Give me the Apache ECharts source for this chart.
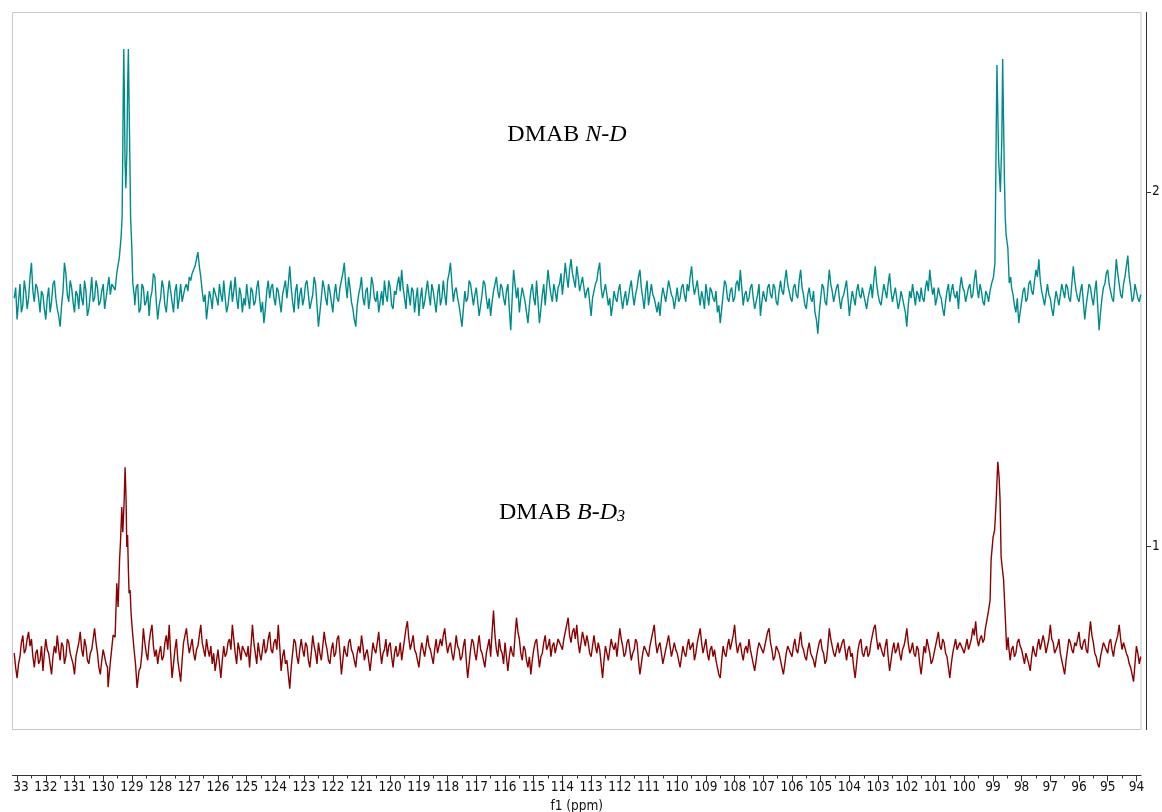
<!DOCTYPE html>
<html>
<head>
<meta charset="utf-8">
<script src="https://cdn.jsdelivr.net/npm/echarts@6/dist/echarts.min.js"></script>
<style>html,body{margin:0;padding:0;background:#fff}#c{width:1162px;height:812px}</style>
</head>
<body>
<div id="c"></div>
<script>
// ---- Data ----
// Baseline samples on a regular grid: first point at 133.1 ppm, then every 0.05 ppm upfield
const ppmStart = 133.1;
const ppmStep = 0.05;

const tealNoise = [
1.70,1.73,1.64,1.69,1.74,1.66,1.68,1.75,1.72,1.67,1.70,1.76,1.80,1.72,1.69,1.74,1.73,1.70,1.66,1.72,
1.71,1.67,1.64,1.70,1.73,1.66,1.69,1.74,1.75,1.70,1.67,1.65,1.62,1.68,1.72,1.80,1.77,1.71,1.69,1.75,
1.73,1.69,1.66,1.72,1.71,1.67,1.74,1.70,1.68,1.75,1.72,1.65,1.67,1.71,1.76,1.69,1.70,1.75,1.73,1.68,
1.69,1.72,1.74,1.67,1.70,1.73,1.76,1.71,1.74,1.76,1.75,1.78,1.80,1.85,1.90,1.90,1.90,1.85,1.80,1.80,
1.80,1.80,1.75,1.72,1.68,1.73,1.74,1.66,1.67,1.74,1.73,1.68,1.69,1.72,1.65,1.70,1.72,1.77,1.76,1.69,
1.64,1.68,1.70,1.75,1.73,1.68,1.66,1.71,1.75,1.72,1.69,1.66,1.72,1.74,1.67,1.70,1.74,1.69,1.71,1.73,
1.74,1.72,1.76,1.75,1.77,1.78,1.79,1.81,1.83,1.79,1.76,1.72,1.69,1.71,1.64,1.68,1.72,1.70,1.67,1.73,
1.73,1.70,1.68,1.74,1.71,1.69,1.75,1.70,1.66,1.68,1.72,1.75,1.69,1.72,1.76,1.70,1.67,1.73,1.71,1.66,
1.70,1.68,1.74,1.70,1.67,1.73,1.72,1.68,1.69,1.73,1.75,1.70,1.66,1.69,1.63,1.67,1.72,1.75,1.70,1.73,
1.74,1.70,1.68,1.73,1.72,1.69,1.66,1.71,1.73,1.75,1.70,1.74,1.79,1.73,1.69,1.66,1.72,1.74,1.67,1.71,
1.73,1.68,1.70,1.74,1.75,1.71,1.67,1.69,1.71,1.76,1.74,1.68,1.62,1.66,1.70,1.75,1.73,1.70,1.68,1.74,
1.72,1.69,1.66,1.71,1.74,1.70,1.69,1.73,1.75,1.77,1.80,1.74,1.70,1.76,1.73,1.69,1.67,1.64,1.62,1.68,
1.71,1.73,1.76,1.70,1.68,1.72,1.73,1.67,1.70,1.76,1.74,1.70,1.69,1.72,1.66,1.69,1.72,1.68,1.75,1.71,
1.69,1.75,1.73,1.68,1.67,1.72,1.71,1.74,1.76,1.72,1.78,1.73,1.70,1.67,1.74,1.71,1.68,1.73,1.72,1.66,
1.70,1.73,1.65,1.70,1.73,1.67,1.69,1.72,1.75,1.71,1.68,1.74,1.72,1.69,1.66,1.71,1.74,1.68,1.70,1.75,
1.71,1.68,1.75,1.77,1.80,1.74,1.69,1.72,1.73,1.70,1.68,1.65,1.62,1.67,1.72,1.69,1.70,1.75,1.74,1.71,
1.68,1.71,1.73,1.69,1.65,1.68,1.71,1.75,1.74,1.70,1.67,1.70,1.65,1.69,1.72,1.74,1.76,1.72,1.70,1.74,
1.73,1.70,1.68,1.72,1.74,1.67,1.61,1.70,1.78,1.74,1.70,1.73,1.66,1.70,1.73,1.71,1.69,1.66,1.63,1.68,
1.72,1.74,1.70,1.68,1.75,1.69,1.63,1.67,1.71,1.74,1.68,1.73,1.78,1.74,1.71,1.69,1.74,1.72,1.69,1.73,
1.74,1.77,1.71,1.75,1.80,1.76,1.73,1.78,1.81,1.77,1.75,1.73,1.79,1.76,1.72,1.74,1.76,1.73,1.70,1.72,
1.73,1.69,1.65,1.70,1.72,1.74,1.75,1.78,1.80,1.73,1.70,1.72,1.74,1.71,1.68,1.70,1.65,1.68,1.72,1.70,
1.69,1.72,1.74,1.70,1.67,1.70,1.72,1.68,1.70,1.73,1.75,1.71,1.68,1.71,1.73,1.76,1.78,1.73,1.70,1.67,
1.72,1.75,1.68,1.71,1.74,1.71,1.70,1.68,1.66,1.69,1.65,1.70,1.73,1.71,1.69,1.72,1.75,1.73,1.71,1.70,
1.67,1.70,1.73,1.69,1.70,1.73,1.74,1.71,1.69,1.74,1.72,1.76,1.79,1.74,1.71,1.73,1.75,1.71,1.68,1.72,
1.70,1.67,1.74,1.71,1.68,1.73,1.72,1.70,1.69,1.72,1.66,1.68,1.63,1.67,1.71,1.75,1.74,1.70,1.69,1.72,
1.73,1.69,1.70,1.74,1.75,1.72,1.78,1.73,1.68,1.71,1.72,1.69,1.70,1.73,1.74,1.70,1.67,1.69,1.71,1.74,
1.65,1.69,1.72,1.70,1.69,1.73,1.74,1.71,1.70,1.74,1.73,1.69,1.68,1.72,1.75,1.72,1.71,1.75,1.78,1.74,
1.72,1.70,1.69,1.73,1.74,1.71,1.70,1.75,1.78,1.73,1.71,1.68,1.67,1.71,1.73,1.70,1.69,1.72,1.66,1.64,
1.60,1.66,1.70,1.74,1.73,1.69,1.68,1.73,1.78,1.74,1.72,1.69,1.69,1.73,1.74,1.70,1.67,1.70,1.71,1.73,
1.75,1.70,1.65,1.69,1.72,1.70,1.68,1.72,1.74,1.71,1.70,1.73,1.73,1.69,1.67,1.70,1.72,1.74,1.70,1.75,
1.79,1.74,1.71,1.69,1.68,1.71,1.74,1.72,1.70,1.74,1.77,1.72,1.69,1.71,1.73,1.70,1.67,1.69,1.72,1.70,
1.70,1.66,1.62,1.68,1.72,1.70,1.74,1.71,1.68,1.72,1.71,1.69,1.73,1.70,1.69,1.73,1.75,1.72,1.78,1.74,
1.71,1.73,1.68,1.70,1.73,1.71,1.70,1.67,1.65,1.69,1.72,1.74,1.69,1.72,1.74,1.71,1.70,1.72,1.67,1.73,
1.76,1.73,1.72,1.69,1.69,1.73,1.74,1.70,1.71,1.75,1.78,1.73,1.70,1.74,1.72,1.69,1.68,1.72,1.71,1.69,
1.72,1.74,1.80,1.80,1.90,1.90,1.90,1.90,1.90,1.90,1.90,1.90,1.90,1.90,1.80,1.73,1.71,1.68,1.66,1.70,
1.63,1.66,1.69,1.72,1.73,1.69,1.70,1.74,1.75,1.72,1.71,1.75,1.78,1.76,1.81,1.75,1.72,1.70,1.68,1.71,
1.74,1.71,1.70,1.67,1.65,1.69,1.72,1.70,1.68,1.71,1.74,1.72,1.70,1.74,1.73,1.70,1.69,1.74,1.79,1.75,
1.72,1.70,1.69,1.72,1.74,1.69,1.64,1.68,1.71,1.74,1.73,1.70,1.68,1.72,1.75,1.68,1.61,1.66,1.70,1.73,
1.74,1.77,1.78,1.74,1.72,1.70,1.69,1.75,1.81,1.77,1.74,1.71,1.70,1.74,1.76,1.79,1.82,1.76,1.73,1.69,
1.70,1.74,1.72,1.70,1.69,1.71
];

const redNoise = [
0.70,0.66,0.63,0.67,0.69,0.73,0.75,0.70,0.71,0.74,0.76,0.72,0.74,0.69,0.66,0.70,0.71,0.67,0.68,0.72,
0.65,0.70,0.74,0.71,0.70,0.67,0.64,0.69,0.72,0.70,0.75,0.71,0.68,0.73,0.72,0.67,0.69,0.74,0.73,0.70,
0.70,0.67,0.64,0.69,0.71,0.73,0.76,0.71,0.69,0.74,0.72,0.68,0.67,0.70,0.71,0.74,0.77,0.73,0.70,0.66,
0.64,0.68,0.71,0.69,0.67,0.66,0.70,0.70,0.70,0.70,0.70,0.70,0.70,0.70,0.70,0.70,0.70,0.70,0.70,0.70,
0.70,0.70,0.70,0.70,0.70,0.70,0.70,0.70,0.66,0.70,0.77,0.73,0.70,0.68,0.73,0.76,0.78,0.72,0.69,0.71,
0.67,0.70,0.72,0.68,0.69,0.73,0.75,0.71,0.78,0.70,0.63,0.67,0.71,0.74,0.68,0.65,0.62,0.68,0.73,0.75,
0.77,0.73,0.70,0.72,0.74,0.70,0.68,0.71,0.72,0.75,0.78,0.73,0.71,0.69,0.74,0.71,0.69,0.72,0.67,0.70,
0.65,0.68,0.71,0.67,0.63,0.68,0.72,0.69,0.70,0.73,0.74,0.71,0.78,0.74,0.70,0.67,0.73,0.71,0.68,0.72,
0.72,0.70,0.69,0.72,0.66,0.72,0.78,0.73,0.70,0.67,0.73,0.70,0.68,0.71,0.74,0.70,0.71,0.74,0.76,0.71,
0.70,0.73,0.74,0.71,0.78,0.72,0.65,0.69,0.71,0.67,0.68,0.64,0.60,0.66,0.70,0.74,0.73,0.69,0.67,0.71,
0.74,0.71,0.69,0.73,0.72,0.68,0.66,0.70,0.75,0.72,0.70,0.67,0.73,0.70,0.68,0.72,0.76,0.73,0.71,0.68,
0.67,0.71,0.73,0.69,0.70,0.74,0.75,0.70,0.64,0.68,0.72,0.70,0.69,0.73,0.74,0.71,0.70,0.68,0.66,0.70,
0.72,0.70,0.75,0.72,0.68,0.70,0.71,0.68,0.65,0.69,0.73,0.71,0.70,0.73,0.76,0.71,0.67,0.70,0.71,0.74,
0.69,0.72,0.73,0.69,0.66,0.70,0.72,0.69,0.70,0.73,0.68,0.71,0.74,0.77,0.79,0.74,0.71,0.73,0.75,0.71,
0.70,0.68,0.66,0.70,0.73,0.71,0.69,0.72,0.75,0.72,0.71,0.69,0.67,0.71,0.74,0.70,0.70,0.74,0.72,0.75,
0.77,0.73,0.70,0.72,0.73,0.70,0.68,0.71,0.75,0.72,0.71,0.68,0.69,0.72,0.74,0.68,0.63,0.67,0.71,0.74,
0.73,0.70,0.68,0.72,0.75,0.71,0.70,0.68,0.66,0.70,0.72,0.74,0.69,0.76,0.82,0.75,0.71,0.69,0.74,0.71,
0.70,0.67,0.73,0.69,0.65,0.69,0.72,0.70,0.69,0.75,0.80,0.76,0.74,0.70,0.68,0.72,0.71,0.68,0.66,0.69,
0.64,0.68,0.71,0.73,0.74,0.70,0.66,0.69,0.70,0.73,0.75,0.71,0.72,0.74,0.69,0.72,0.73,0.70,0.70,0.74,
0.74,0.72,0.71,0.74,0.76,0.78,0.80,0.75,0.73,0.76,0.77,0.74,0.78,0.73,0.70,0.73,0.76,0.74,0.72,0.75,
0.73,0.70,0.69,0.72,0.75,0.72,0.70,0.73,0.71,0.67,0.63,0.68,0.72,0.70,0.68,0.71,0.74,0.72,0.71,0.73,
0.69,0.73,0.77,0.74,0.72,0.69,0.70,0.73,0.74,0.71,0.68,0.70,0.71,0.74,0.73,0.68,0.64,0.67,0.70,0.72,
0.72,0.70,0.69,0.72,0.74,0.76,0.78,0.73,0.70,0.72,0.73,0.70,0.67,0.69,0.71,0.73,0.75,0.72,0.69,0.71,
0.73,0.71,0.70,0.68,0.66,0.69,0.72,0.70,0.69,0.72,0.74,0.71,0.71,0.73,0.68,0.70,0.73,0.75,0.77,0.73,
0.70,0.72,0.74,0.70,0.68,0.71,0.72,0.69,0.71,0.68,0.66,0.64,0.63,0.68,0.72,0.70,0.69,0.72,0.74,0.71,
0.71,0.75,0.78,0.73,0.70,0.72,0.73,0.70,0.68,0.71,0.72,0.70,0.74,0.71,0.69,0.67,0.65,0.68,0.71,0.73,
0.73,0.71,0.70,0.72,0.74,0.76,0.77,0.73,0.71,0.68,0.69,0.72,0.72,0.70,0.68,0.66,0.64,0.67,0.70,0.72,
0.72,0.70,0.69,0.72,0.74,0.71,0.70,0.73,0.76,0.72,0.71,0.69,0.68,0.71,0.73,0.70,0.70,0.68,0.66,0.69,
0.71,0.73,0.74,0.71,0.70,0.67,0.68,0.72,0.77,0.74,0.72,0.70,0.69,0.71,0.73,0.70,0.70,0.73,0.74,0.71,
0.68,0.71,0.72,0.69,0.70,0.66,0.63,0.67,0.71,0.73,0.74,0.70,0.69,0.71,0.72,0.69,0.70,0.73,0.75,0.77,
0.78,0.74,0.71,0.73,0.73,0.70,0.69,0.72,0.74,0.69,0.65,0.68,0.71,0.73,0.70,0.71,0.73,0.70,0.68,0.71,
0.72,0.74,0.77,0.73,0.70,0.71,0.73,0.70,0.69,0.72,0.71,0.67,0.64,0.68,0.72,0.70,0.74,0.72,0.70,0.67,
0.68,0.70,0.72,0.74,0.76,0.72,0.71,0.74,0.73,0.70,0.69,0.66,0.63,0.67,0.70,0.72,0.74,0.71,0.71,0.73,
0.73,0.71,0.70,0.72,0.74,0.71,0.71,0.74,0.77,0.75,0.79,0.74,0.72,0.74,0.75,0.73,0.74,0.80,0.80,0.80,
0.90,0.90,0.90,0.90,0.90,0.90,0.90,0.90,0.90,0.90,0.90,0.90,0.90,0.72,0.68,0.71,0.72,0.69,0.70,0.73,
0.74,0.72,0.71,0.69,0.67,0.70,0.70,0.67,0.65,0.69,0.72,0.70,0.69,0.72,0.74,0.71,0.71,0.75,0.73,0.70,
0.70,0.74,0.78,0.74,0.73,0.70,0.70,0.72,0.74,0.70,0.68,0.66,0.64,0.68,0.71,0.74,0.73,0.71,0.70,0.73,
0.72,0.74,0.76,0.72,0.71,0.73,0.74,0.71,0.70,0.75,0.79,0.75,0.73,0.70,0.69,0.67,0.66,0.69,0.71,0.73,
0.73,0.71,0.70,0.73,0.74,0.71,0.69,0.72,0.72,0.75,0.78,0.74,0.71,0.73,0.73,0.70,0.69,0.67,0.66,0.64,
0.62,0.67,0.72,0.70,0.67,0.69
];

// Peak regions: [ppm, intensity]
const tealPeakLeft = [
[129.655,1.743],[129.585,1.723],[129.526,1.771],[129.436,1.816],[129.376,1.872],
[129.341,1.929],[129.317,2.117],[129.300,2.286],[129.282,2.402],[129.260,2.258],
[129.240,2.089],[129.210,2.010],[129.174,2.117],[129.150,2.286],[129.122,2.402],
[129.100,2.258],[129.070,2.089],[129.045,1.929],[129.003,1.844],[128.969,1.743],[128.913,1.704]
];
const tealPeakRight = [
[99.04,1.743],[98.98,1.760],[98.93,1.799],[98.90,2.040],[98.88,2.202],[98.86,2.357],
[98.83,2.230],[98.80,2.089],[98.74,1.999],[98.69,2.146],[98.66,2.374],[98.63,2.202],
[98.60,2.040],[98.57,1.927],[98.54,1.879],[98.48,1.842],[98.43,1.743],[98.38,1.760]
];
const redPeakLeft = [
[129.829,0.604],[129.760,0.667],[129.655,0.751],[129.585,0.745],[129.526,0.897],
[129.480,0.830],[129.429,0.963],[129.394,1.019],[129.352,1.112],[129.317,1.041],
[129.272,1.123],[129.237,1.224],[129.202,1.131],[129.178,0.999],[129.150,1.033],
[129.122,0.934],[129.098,0.869],[129.063,0.878],[129.028,0.813],[128.976,0.757],
[128.923,0.709],[128.871,0.667],[128.819,0.602],[128.749,0.652]
];
const redPeakRight = [
[99.272,0.765],[99.167,0.813],[99.098,0.849],[99.063,0.963],[98.993,1.027],
[98.940,1.047],[98.889,1.123],[98.830,1.239],[98.784,1.196],[98.750,1.131],
[98.714,0.971],[98.679,0.971],[98.627,0.906],[98.575,0.813],[98.520,0.709],[98.470,0.745]
];

const xMin = 93.84, xMax = 133.16;
const yMin = 0.485, yMax = 2.505;
const majorTicks = [];
for (let v = 94; v <= 133; v++) majorTicks.push(v);
const minorTicks = [];
for (let v = 94.5; v <= 133; v += 1) minorTicks.push(v);
const yTicks = [1, 2];

function build(noise, peaks) {
  const ranges = peaks.map(p => [Math.min(...p.map(d => d[0])), Math.max(...p.map(d => d[0]))]);
  const pts = [];
  noise.forEach((v, i) => {
    const ppm = +(ppmStart - i * ppmStep).toFixed(3);
    if (!ranges.some(r => ppm >= r[0] && ppm <= r[1])) pts.push([ppm, v]);
  });
  peaks.forEach(p => p.forEach(d => pts.push(d)));
  pts.sort((a, b) => b[0] - a[0]);
  return pts;
}

const tealData = build(tealNoise, [tealPeakLeft, tealPeakRight]);
const redData = build(redNoise, [redPeakLeft, redPeakRight]);

const axisFont = '"DejaVu Sans Condensed", "DejaVu Sans", sans-serif';
const serif = '"Liberation Serif", "Times New Roman", serif';

const chart = echarts.init(document.getElementById('c'), null, {renderer: 'canvas'});
chart.setOption({
  animation: false,
  backgroundColor: '#ffffff',
  grid: {left: 12.5, right: 21, top: 12.5, bottom: 82.5, containLabel: false, outerBoundsMode: 'none',
         show: true, borderColor: '#c8c8c8', borderWidth: 1, backgroundColor: 'transparent'},
  xAxis: [{
    type: 'value', inverse: true, min: xMin, max: xMax, position: 'bottom', offset: 46,
    axisLine: {show: true, onZero: false, lineStyle: {color: '#333', width: 1}},
    axisTick: {show: true, customValues: majorTicks, length: 6, lineStyle: {color: '#333'}},
    axisLabel: {show: true, customValues: majorTicks, color: '#111', fontFamily: axisFont, fontSize: 13.5, margin: 5},
    splitLine: {show: false},
    name: 'f1 (ppm)', nameLocation: 'middle', nameGap: 22,
    nameTextStyle: {color: '#111', fontFamily: axisFont, fontSize: 13.5}
  }, {
    type: 'value', inverse: true, min: xMin, max: xMax, position: 'bottom', offset: 46,
    axisLine: {show: false, onZero: false},
    axisTick: {show: true, customValues: minorTicks, length: 3, lineStyle: {color: '#333'}},
    axisLabel: {show: false},
    splitLine: {show: false}
  }],
  yAxis: {
    type: 'value', position: 'right', offset: 5, min: yMin, max: yMax,
    axisLine: {show: true, onZero: false, lineStyle: {color: '#333', width: 1}},
    axisTick: {show: true, customValues: yTicks, length: 5, lineStyle: {color: '#333'}},
    axisLabel: {show: true, customValues: yTicks, color: '#111', fontFamily: axisFont, fontSize: 13.5,
                margin: 6, padding: [0, 0, 5, 0]},
    splitLine: {show: false}
  },
  series: [{
    type: 'line', name: 'DMAB N-D', data: tealData, showSymbol: false, symbol: 'none',
    lineStyle: {color: '#008b8b', width: 1.4}, itemStyle: {color: '#008b8b'}
  }, {
    type: 'line', name: 'DMAB B-D3', data: redData, showSymbol: false, symbol: 'none',
    lineStyle: {color: '#8b0000', width: 1.4}, itemStyle: {color: '#8b0000'}
  }],
  graphic: [{
    type: 'text', x: 567, y: 133, z: 100,
    style: {
      text: '{n|DMAB }{i|N-D}', align: 'center', verticalAlign: 'middle',
      rich: {
        n: {fontFamily: serif, fontSize: 24, fill: '#000', lineHeight: 28, verticalAlign: 'bottom'},
        i: {fontFamily: serif, fontSize: 24, fontStyle: 'italic', fill: '#000', lineHeight: 28, verticalAlign: 'bottom'}
      }
    }
  }, {
    type: 'text', x: 562, y: 511, z: 100,
    style: {
      text: '{n|DMAB }{i|B-D}{s|3}', align: 'center', verticalAlign: 'middle',
      rich: {
        n: {fontFamily: serif, fontSize: 24, fill: '#000', lineHeight: 28, verticalAlign: 'bottom'},
        i: {fontFamily: serif, fontSize: 24, fontStyle: 'italic', fill: '#000', lineHeight: 28, verticalAlign: 'bottom'},
        s: {fontFamily: serif, fontSize: 16, fontStyle: 'italic', fill: '#000', lineHeight: 16, verticalAlign: 'bottom'}
      }
    }
  }, {
    type: 'rect', z: 100, shape: {x: 0, y: 779, width: 12.5, height: 20}, style: {fill: '#ffffff'}
  }]
});
</script>
</body>
</html>
